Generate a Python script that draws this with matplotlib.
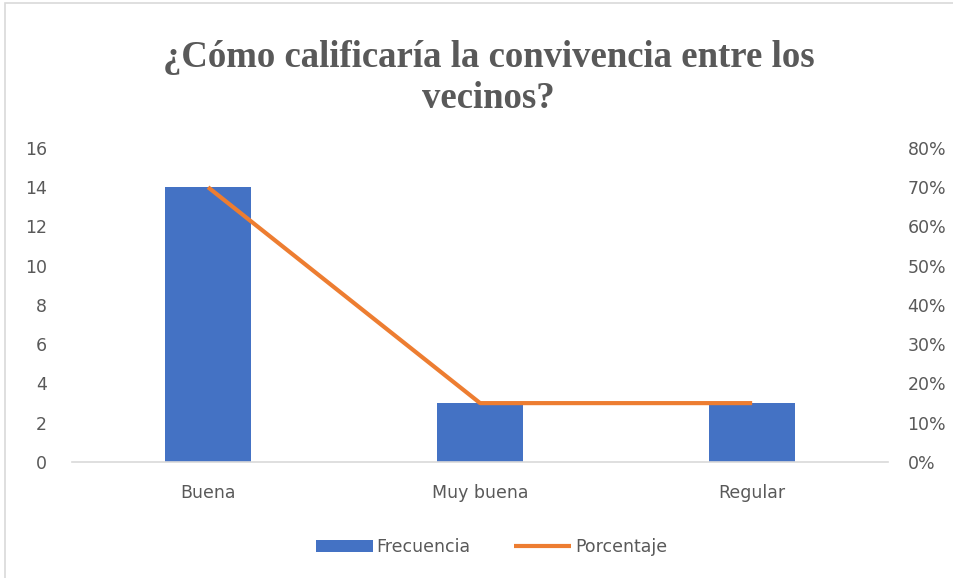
import matplotlib.pyplot as plt
from matplotlib.patches import Rectangle
from matplotlib.ticker import PercentFormatter

categories = ['Buena', 'Muy buena', 'Regular']
frecuencia = [14, 3, 3]
porcentaje = [0.70, 0.15, 0.15]

blue = '#4472C4'
orange = '#ED7D31'
text_gray = '#595959'

fig = plt.figure(figsize=(9.54, 5.78), dpi=100)
ax = fig.add_axes([0.0755, 0.2007, 0.8555, 0.5433])
ax2 = ax.twinx()

x = range(len(categories))
ax.bar(x, frecuencia, width=0.316, color=blue, label='Frecuencia', zorder=2)
ax2.plot(x, porcentaje, color=orange, lw=3, label='Porcentaje', solid_capstyle='butt')

ax.set_xlim(-0.5, 2.5)
ax.set_ylim(0, 16)
ax.set_yticks(range(0, 17, 2))
ax2.set_ylim(0, 0.8)
ax2.set_yticks([i / 10 for i in range(9)])
ax2.yaxis.set_major_formatter(PercentFormatter(1.0, decimals=0))

ax.set_xticks(list(x))
ax.set_xticklabels(categories)

for a in (ax, ax2):
    for s in a.spines.values():
        s.set_visible(False)
    a.tick_params(length=0, labelsize=12.5, labelcolor=text_gray)
ax.spines['bottom'].set_visible(True)
ax.spines['bottom'].set_color('#D9D9D9')
ax.spines['bottom'].set_linewidth(1.2)
ax.tick_params(axis='x', pad=16)
ax.tick_params(axis='y', pad=18)
ax2.tick_params(axis='y', pad=14)

fig.text(0.512, 0.865, '¿Cómo calificaría la convivencia entre los\nvecinos?',
         ha='center', va='center', fontsize=26.5, fontweight='bold',
         family='Liberation Serif', color=text_gray, linespacing=1.2)

h1, l1 = ax.get_legend_handles_labels()
h2, l2 = ax2.get_legend_handles_labels()
fig.legend(h1 + h2, l1 + l2, loc='center', bbox_to_anchor=(0.515, 0.054), ncol=2,
           frameon=False, fontsize=12.5, labelcolor=text_gray,
           handlelength=3.3, handletextpad=0.2, columnspacing=2.5)

fig.patches.append(Rectangle((5 / 954, -0.1), 1.2, 1.095, transform=fig.transFigure,
                             fill=False, edgecolor='#D9D9D9', lw=1.2))

fig.savefig('out.png', dpi=100)
